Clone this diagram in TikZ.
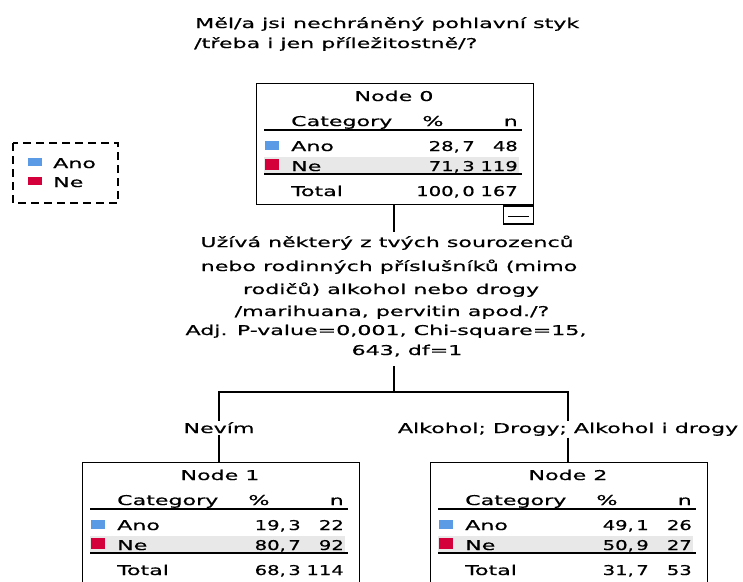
\documentclass[tikz,border=0pt]{standalone}
\usepackage{fontspec}
\setmainfont[FakeStretch=1.64,FakeBold=0.6]{DejaVu Sans}
\newfontfamily\numfont[FakeStretch=1.45,FakeBold=0.6]{DejaVu Sans}
\newcommand\cm{,\kern2.5pt}
\definecolor{anoblue}{HTML}{5B9BE6}
\definecolor{nered}{HTML}{D4003C}
\definecolor{rowgray}{HTML}{E8E8E8}
\tikzset{
  txt/.style={inner sep=0pt, font=\fontsize{13.5}{15}\selectfont},
  numtxt/.style={inner sep=0pt, font=\fontsize{13.5}{15}\numfont},
  boxst/.style={draw=black, line width=1.4pt, minimum width=277pt, minimum height=121pt, anchor=north west, inner sep=0pt},
  rulest/.style={line width=1.4pt},
  conn/.style={line width=1.3pt},
  lbl/.style={txt, inner sep=1.5pt},
  legbox/.style={line width=1.3pt, dash pattern=on 8pt off 5pt}
}
\newcommand\treebox[8]{%
  \node[boxst] (#1) at (0,0) {};
  \fill[rowgray] (8,74) rectangle (263,90);
  \fill[anoblue] (9,58) rectangle (23,67);
  \fill[nered] (9,76) rectangle (23,87);
  \draw[rulest] (8,47) -- (266,47);
  \draw[rulest] (8,91) -- (266,91);
  \node[txt, anchor=base] (#1title) at (138,18) {#2};
  \node[txt, anchor=base west] (#1cat) at (35,43) {Category};
  \node[txt, anchor=base] (#1pct) at (177,43) {\%};
  \node[txt, anchor=base east] (#1n) at (262,43) {n};
  \node[txt, anchor=base west] (#1ano) at (35,68) {Ano};
  \node[numtxt, anchor=base east] (#1anop) at (219,68) {#3};
  \node[numtxt, anchor=base east] (#1anon) at (262,68) {#4};
  \node[txt, anchor=base west] (#1ne) at (35,88) {Ne};
  \node[numtxt, anchor=base east] (#1nep) at (219,88) {#5};
  \node[numtxt, anchor=base east] (#1nen) at (262,88) {#6};
  \node[txt, anchor=base west] (#1tot) at (35,113) {Total};
  \node[numtxt, anchor=base east] (#1totp) at (219,113) {#7};
  \node[numtxt, anchor=base east] (#1totn) at (262,113) {#8};
}
\begin{document}
\begin{tikzpicture}[x=1pt,y=-1pt]
\useasboundingbox (0,0) rectangle (743,581);
% title
\node[txt, anchor=base west] (t1) at (195,28) {Měl/a jsi nechráněný pohlavní styk};
\node[txt, anchor=base west] (t2) at (194,48) {/třeba i jen příležitostně/?};
% legend
\draw[legbox] (13,143) rectangle (118,203);
\fill[anoblue] (28,158) rectangle (42,166);
\fill[nered] (28,177) rectangle (42,185);
\node[txt, anchor=base west] (lg1) at (53,168) {Ano};
\node[txt, anchor=base west] (lg2) at (53,187) {Ne};
% nodes
\begin{scope}[shift={(256,83)}]
\treebox{n0}{Node 0}{28\cm7}{48}{71\cm3}{119}{100\cm0}{167}
\end{scope}
\node[draw=black, line width=1.3pt, minimum width=30pt, minimum height=18pt, inner sep=0pt, anchor=north east] (n0m) at (n0.south east) {};
\draw[line width=1pt] ([xshift=5pt,yshift=-1pt]n0m.west) -- ([xshift=-5pt,yshift=-1pt]n0m.east);
\begin{scope}[shift={(82,462)}]
\treebox{n1}{Node 1}{19\cm3}{22}{80\cm7}{92}{68\cm3}{114}
\end{scope}
\begin{scope}[shift={(430,462)}]
\treebox{n2}{Node 2}{49\cm1}{26}{50\cm9}{27}{31\cm7}{53}
\end{scope}
% split question
\node[txt, anchor=base] (q1) at (387,247) {Užívá některý z tvých sourozenců};
\node[txt, anchor=base] (q2) at (389,271) {nebo rodinných příslušníků (mimo};
\node[txt, anchor=base] (q3) at (391,294) {rodičů) alkohol nebo drogy};
\node[txt, anchor=base] (q4) at (392,316) {/marihuana, pervitin apod./?};
\node[txt, anchor=base] (q5) at (386,335) {Adj. P-value=0,001, Chi-square=15,};
\node[txt, anchor=base] (q6) at (407,355) {643, df=1};
% branch labels
\node[lbl, anchor=base] (b1) at (219,433) {Nevím};
\node[lbl, anchor=base] (b2) at (568,433) {Alkohol; Drogy; Alkohol i drogy};
% connectors
\coordinate (qtop) at (394,232);
\coordinate (qbot) at (394,366);
\coordinate (hm) at (394,392);
\draw[conn] (n0.south -| qtop) -- (qtop);
\draw[conn] (qbot) -- (hm);
\draw[conn] (b1.north) -- (b1.north |- hm) -- (b2.north |- hm) -- (b2.north);
\draw[conn] (b1.south) -- (b1.south |- n1.north);
\draw[conn] (b2.south) -- (b2.south |- n2.north);
\end{tikzpicture}
\end{document}
